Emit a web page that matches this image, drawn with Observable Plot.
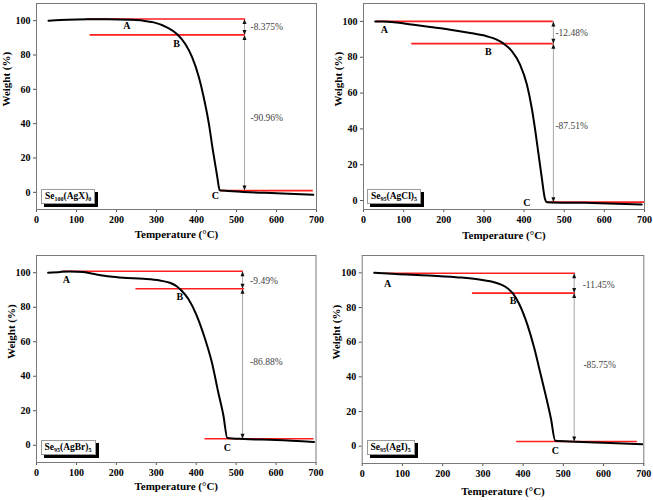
<!DOCTYPE html>
<html><head><meta charset="utf-8">
<script src="https://cdn.jsdelivr.net/npm/d3@7"></script>
<script src="https://cdn.jsdelivr.net/npm/@observablehq/plot@0.6"></script>
<style>
body{margin:0;background:#fff;}
#root{position:relative;width:653px;height:500px;overflow:hidden;background:#fff;}
.panel{position:absolute;}
.panel svg{display:block;}
.legend{position:absolute;background:#fff;border:1px solid #9a9a9a;box-shadow:3px 3px 0 #000;font:bold 9.5px 'Liberation Serif','Times New Roman',serif;color:#000;white-space:nowrap;line-height:13px;padding:0 3px;}
.legend sub{font-size:6px;vertical-align:-2px;line-height:0;}
</style></head><body><div id="root"></div>
<script>
// ---------- data ----------
const letters = ["A", "B", "C"];
const xTicks = [0, 100, 200, 300, 400, 500, 600, 700];
const yTicks = [0, 20, 40, 60, 80, 100];
const xTitle = "Temperature (°C)";
const yTitle = "Weight (%)";

// Panel 1: Se100(AgX)0
const p1Formula = ["Se", "100", "(AgX)", "0"];
const p1Temp   = [30, 60, 100, 127, 180, 230, 260, 276, 293, 326, 351, 372, 389, 406, 418, 431, 441, 452, 458, 480, 518, 600, 692];
const p1Weight = [100.0, 100.4, 100.7, 100.8, 100.8, 100.6, 100.2, 99.6, 99.0, 96.1, 92.2, 86.4, 78.7, 67.0, 55.4, 39.9, 24.4, 8.9, 1.2, 0.8, 0.2, -0.5, -1.4];
const p1LineStart  = [125, 134, 460];
const p1LineEnd    = [523, 522, 692];
const p1LineWeight = [101.0, 91.7, 1.0];
const p1ArrowTemp  = 520;
const p1LetterTemp   = [226, 350, 447];
const p1LetterWeight = [97.1, 86.8, -2.3];
const p1Loss       = ["-8.375%", "-90.96%"];
const p1LossTemp   = [535, 535];
const p1LossWeight = [96.1, 43.4];
const p1YDomain = [-10, 110];

// Panel 2: Se95(AgCl)5
const p2Formula = ["Se", "95", "(AgCl)", "5"];
const p2Temp   = [29, 50, 83, 125, 166, 216, 266, 307, 332, 349, 370, 390, 407, 419, 428, 436, 444, 452, 457, 550, 693];
const p2Weight = [100.0, 100.0, 99.4, 98.1, 96.9, 95.4, 93.5, 91.7, 89.8, 87.6, 83.3, 75.9, 64.8, 51.8, 38.9, 25.9, 12.9, 1.0, -0.9, -1.3, -2.2];
const p2LineStart  = [33, 120, 455];
const p2LineEnd    = [473, 473, 700];
const p2LineWeight = [100.0, 87.6, -0.9];
const p2ArrowTemp  = 473;
const p2LetterTemp   = [52, 311, 407];
const p2LetterWeight = [95.4, 83.3, -1.5];
const p2Loss       = ["-12.48%", "-87.51%"];
const p2LossTemp   = [478, 478];
const p2LossWeight = [93.5, 41.7];
const p2YDomain = [-5, 110];

// Panel 3: Se95(AgBr)5
const p3Formula = ["Se", "95", "(AgBr)", "5"];
const p3Temp   = [29, 60, 84, 117, 150, 184, 217, 267, 309, 334, 351, 363, 380, 401, 422, 439, 455, 468, 478, 520, 600, 695];
const p3Weight = [100.0, 100.5, 100.7, 100.4, 99.0, 97.8, 97.1, 96.5, 95.5, 94.2, 92.2, 89.7, 84.9, 75.3, 61.7, 48.2, 30.9, 17.4, 4.2, 3.6, 3.1, 1.9];
const p3LineStart  = [64, 249, 422];
const p3LineEnd    = [518, 521, 695];
const p3LineWeight = [100.9, 90.7, 3.8];
const p3ArrowTemp  = 516;
const p3LetterTemp   = [75, 359, 478];
const p3LetterWeight = [96.0, 85.9, -1.6];
const p3Loss       = ["-9.49%", "-86.88%"];
const p3LossTemp   = [535, 535];
const p3LossWeight = [95.1, 48.2];
const p3YDomain = [-10, 110];

// Panel 4: Se95(AgI)5
const p4Formula = ["Se", "95", "(AgI)", "5"];
const p4Temp   = [30, 84, 166, 233, 291, 332, 357, 374, 390, 411, 428, 444, 456, 469, 480, 530, 600, 696];
const p4Weight = [100.0, 99.3, 98.5, 97.5, 96.2, 94.3, 91.8, 88.3, 82.2, 69.8, 56.3, 41.0, 29.5, 16.1, 3.1, 2.6, 2.0, 1.1];
const p4LineStart  = [50, 274, 384];
const p4LineEnd    = [530, 530, 684];
const p4LineWeight = [99.8, 88.3, 2.7];
const p4ArrowTemp  = 527;
const p4LetterTemp   = [63, 375, 480];
const p4LetterWeight = [93.7, 84.1, -2.6];
const p4Loss       = ["-11.45%", "-85.75%"];
const p4LossTemp   = [548, 550];
const p4LossWeight = [93.1, 46.8];
const p4YDomain = [-10, 110];

// ---------- layout ----------
const panels = [
  {formula: p1Formula, temp: p1Temp, weight: p1Weight, ls: p1LineStart, le: p1LineEnd, lw: p1LineWeight, at: p1ArrowTemp, lt: p1LetterTemp, lwt: p1LetterWeight, loss: p1Loss, lossT: p1LossTemp, lossW: p1LossWeight, yDomain: p1YDomain,
   left: 0, top: 0, width: 326, m: [3, 10, 41, 36], yTitleDx: -30, xTitleDy: 28.5, legend: [41, 188.5]},
  {formula: p2Formula, temp: p2Temp, weight: p2Weight, ls: p2LineStart, le: p2LineEnd, lw: p2LineWeight, at: p2ArrowTemp, lt: p2LetterTemp, lwt: p2LetterWeight, loss: p2Loss, lossT: p2LossTemp, lossW: p2LossWeight, yDomain: p2YDomain,
   left: 325, top: 0, width: 328, m: [3, 9, 41, 38], yTitleDx: -25.5, xTitleDy: 29, legend: [42, 188.5]},
  {formula: p3Formula, temp: p3Temp, weight: p3Weight, ls: p3LineStart, le: p3LineEnd, lw: p3LineWeight, at: p3ArrowTemp, lt: p3LetterTemp, lwt: p3LetterWeight, loss: p3Loss, lossT: p3LossTemp, lossW: p3LossWeight, yDomain: p3YDomain,
   left: 0, top: 250, width: 326, m: [5, 10.5, 38, 36], yTitleDx: -25.5, xTitleDy: 27, legend: [40.5, 190]},
  {formula: p4Formula, temp: p4Temp, weight: p4Weight, ls: p4LineStart, le: p4LineEnd, lw: p4LineWeight, at: p4ArrowTemp, lt: p4LetterTemp, lwt: p4LetterWeight, loss: p4Loss, lossT: p4LossTemp, lossW: p4LossWeight, yDomain: p4YDomain,
   left: 325, top: 250, width: 328, m: [5, 9.7, 37, 36.7], yTitleDx: -25.7, xTitleDy: 31, legend: [41.5, 190]}
];

const font = "'Liberation Serif','Times New Roman',serif";
const root = document.getElementById("root");

for (const p of panels) {
  const curve = p.temp.map((t, i) => ({t, w: p.weight[i]}));
  const lines = p.ls.map((s, i) => ({x1: s, x2: p.le[i], w: p.lw[i]}));
  const spans = [{w1: p.lw[0], w2: p.lw[1]}, {w1: p.lw[1], w2: p.lw[2]}];
  const heads = [
    {w: p.lw[0], r: 0}, {w: p.lw[1], r: 180},
    {w: p.lw[1], r: 0}, {w: p.lw[2], r: 180}
  ];
  const letterData = letters.map((l, i) => ({l, t: p.lt[i], w: p.lwt[i]}));
  const lossData = p.loss.map((s, i) => ({s, t: p.lossT[i], w: p.lossW[i]}));

  const chart = Plot.plot({
    width: p.width,
    height: 250,
    marginTop: p.m[0], marginRight: p.m[1], marginBottom: p.m[2], marginLeft: p.m[3],
    style: {fontFamily: font, fontSize: "10px", fontWeight: "bold", color: "#000", background: "transparent", overflow: "visible"},
    x: {domain: [0, 700]},
    y: {domain: p.yDomain},
    marks: [
      Plot.axisX({ticks: xTicks, tickSize: 3, tickPadding: 3, label: null, stroke: "#555", fill: "#000"}),
      Plot.axisY({ticks: yTicks, tickSize: 3, tickPadding: 3, label: null, stroke: "#555", fill: "#000"}),
      Plot.ruleX(spans, {x: () => p.at, y1: "w1", y2: "w2", stroke: "#a8a8a8", strokeWidth: 1}),
      Plot.vector(heads, {x: () => p.at, y: "w", rotate: "r", length: 5, r: 2, shape: "spike", anchor: "end", fill: "#111", stroke: "none"}),
      Plot.ruleY(lines, {x1: "x1", x2: "x2", y: "w", stroke: "#ff1f1f", strokeWidth: 1.6}),
      Plot.line(curve, {x: "t", y: "w", stroke: "#000", strokeWidth: 2, curve: "monotone-x"}),
      Plot.text(letterData, {x: "t", y: "w", text: "l", fontWeight: "bold", fontSize: 10, fill: "#000"}),
      Plot.text(lossData, {x: "t", y: "w", text: "s", textAnchor: "start", fontWeight: "normal", fontSize: 9.5, fill: "#444"}),
      Plot.text([xTitle], {frameAnchor: "bottom", dy: p.xTitleDy, fontSize: 11, fontWeight: "bold", fill: "#000"}),
      Plot.text([yTitle], {frameAnchor: "left", dx: p.yTitleDx, rotate: -90, fontSize: 11, fontWeight: "bold", fill: "#000"}),
      Plot.frame({stroke: "#7a7a7a", strokeWidth: 1})
    ]
  });

  const wrap = document.createElement("div");
  wrap.className = "panel";
  wrap.style.left = p.left + "px";
  wrap.style.top = p.top + "px";
  wrap.style.width = p.width + "px";
  wrap.style.height = "250px";
  wrap.appendChild(chart);

  const lg = document.createElement("div");
  lg.className = "legend";
  lg.style.left = p.legend[0] + "px";
  lg.style.top = p.legend[1] + "px";
  lg.innerHTML = `${p.formula[0]}<sub>${p.formula[1]}</sub>${p.formula[2]}<sub>${p.formula[3]}</sub>`;
  wrap.appendChild(lg);

  root.appendChild(wrap);
}
</script></body></html>
